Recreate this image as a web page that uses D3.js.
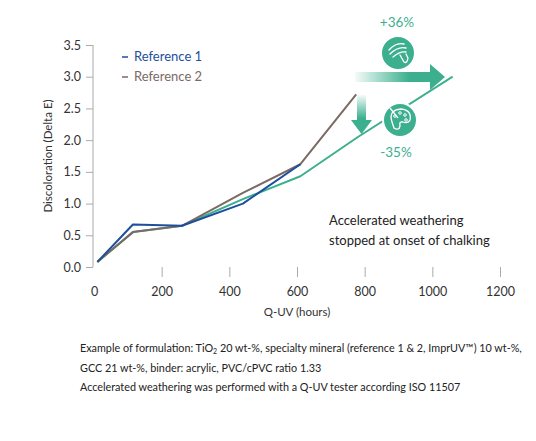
<!DOCTYPE html>
<html><head><meta charset="utf-8">
<script src="https://cdn.jsdelivr.net/npm/d3@7"></script>
<style>body{margin:0;background:#fff}text{font-family:Lato,"Open Sans",sans-serif}</style>
</head><body><svg id="c" width="536" height="441"></svg>
<script>
const hoursRef1 = [10,115,260,440,610];
const ref1 = [0.08,0.67,0.65,1.0,1.62];
const hoursRef2 = [10,115,260,440,610,775];
const ref2 = [0.08,0.55,0.65,1.17,1.62,2.72];
const hoursImpr = [10,115,260,440,610,780,1060];
const impr = [0.08,0.55,0.65,1.07,1.43,2.05,3.0];
const xTicks = [0,200,400,600,800,1000,1200];
const yTicks = [0,0.5,1,1.5,2,2.5,3,3.5];
const cBlue="#1d4f9c", cGray="#7b6a63", cGreen="#3cb08e";

const svg=d3.select("#c");
const x=d3.scaleLinear().domain([0,1200]).range([94,500]);
const y=d3.scaleLinear().domain([0,3.5]).range([267,45]);

const ya=svg.append("g").attr("transform","translate(93,0)")
 .call(d3.axisLeft(y).tickValues(yTicks).tickFormat(d3.format(".1f")).tickSize(7).tickPadding(5));
ya.selectAll("line,path").attr("stroke","#aaa");
ya.select("path").attr("d","M0,45V267");
ya.selectAll("text").attr("font-size",12.5).attr("fill","#333").attr("font-family","Lato,sans-serif");
const xa=svg.append("g").attr("transform","translate(0,267)")
 .call(d3.axisBottom(x).tickValues(xTicks).tickFormat(d3.format("d")).tickSize(10).tickPadding(10));
xa.select("path").remove();
xa.selectAll("line").attr("stroke","#aaa").filter(d=>d===0).remove();
xa.selectAll("text").attr("font-size",12.5).attr("fill","#333").attr("font-family","Lato,sans-serif");

svg.append("text").attr("transform","translate(52,156) rotate(-90)").attr("text-anchor","middle")
 .attr("font-size",11.5).attr("fill","#333").text("Discoloration (Delta E)");
svg.append("text").attr("x",297).attr("y",316).attr("text-anchor","middle")
 .attr("font-size",11.5).attr("fill","#333").text("Q-UV (hours)");

const line=d3.line().x(d=>x(d[0])).y(d=>y(d[1]));
function draw(h,v,c){svg.append("path").datum(h.map((d,i)=>[d,v[i]])).attr("d",line)
 .attr("fill","none").attr("stroke",c).attr("stroke-width",2).attr("stroke-linejoin","round");}
draw(hoursImpr,impr,cGreen);
draw(hoursRef2,ref2,cGray);
draw(hoursRef1,ref1,cBlue);

[["Reference 1",cBlue],["Reference 2",cGray]].forEach((l,i)=>{
 svg.append("line").attr("x1",122).attr("x2",128).attr("y1",57+i*20).attr("y2",57+i*20).attr("stroke",l[1]).attr("stroke-width",1.5);
 svg.append("text").attr("x",134).attr("y",61+i*20).attr("font-size",13).attr("fill",l[1]).text(l[0]);
});

svg.append("text").attr("x",329).attr("y",225).attr("font-size",13).attr("fill","#222").text("Accelerated weathering");
svg.append("text").attr("x",329).attr("y",245).attr("font-size",13).attr("fill","#222").text("stopped at onset of chalking");

const defs=svg.append("defs");
const gh=defs.append("linearGradient").attr("id","gh");
gh.append("stop").attr("offset","0").attr("stop-color",cGreen).attr("stop-opacity",0.05);
gh.append("stop").attr("offset","0.6").attr("stop-color",cGreen).attr("stop-opacity",1);
const gv=defs.append("linearGradient").attr("id","gv").attr("x1",0).attr("x2",0).attr("y1",0).attr("y2",1);
gv.append("stop").attr("offset","0").attr("stop-color",cGreen).attr("stop-opacity",0.05);
gv.append("stop").attr("offset","0.6").attr("stop-color",cGreen).attr("stop-opacity",1);
svg.append("path").attr("d","M355,72H430V64L445,77L430,90V82H355Z").attr("fill","url(#gh)");
svg.append("path").attr("d","M357,95H366V120H372L361.5,134L351,120H357Z").attr("fill","url(#gv)");

function circ(cx,cy){svg.append("circle").attr("cx",cx).attr("cy",cy).attr("r",17).attr("fill",cGreen).attr("stroke","#fff").attr("stroke-width",2);}
circ(398,53);
svg.append("path").attr("d","M389,50Q396,42 404,44M390,54Q398,46 406,48M393,57Q400,51 406,52M400,55L404,62Q407,64 408,58L406,54")
 .attr("fill","none").attr("stroke","#fff").attr("stroke-width",1.3).attr("stroke-linecap","round");
circ(400,120);
svg.append("path").attr("d","M392,122Q388,110 401,109Q412,110 410,120Q408,124 403,122Q399,121 400,126Q399,131 394,128Z")
 .attr("fill","none").attr("stroke","#fff").attr("stroke-width",1.3);
[[395,116],[400,113],[405,115],[406,120]].forEach(p=>svg.append("circle").attr("cx",p[0]).attr("cy",p[1]).attr("r",1.3).attr("fill","none").attr("stroke","#fff"));
svg.append("line").attr("x1",390).attr("y1",108).attr("x2",398).attr("y2",118).attr("stroke","#fff").attr("stroke-width",1.3);

svg.append("text").attr("x",397).attr("y",27).attr("text-anchor","middle").attr("font-size",13.5).attr("fill",cGreen).text("+36%");
svg.append("text").attr("x",396).attr("y",157).attr("text-anchor","middle").attr("font-size",13.5).attr("fill",cGreen).text("-35%");

const f=svg.append("g").attr("font-size",10.8).attr("fill","#222");
const t1=f.append("text").attr("x",80).attr("y",352);
t1.append("tspan").text("Example of formulation: TiO");
t1.append("tspan").attr("font-size",7).attr("dy",2).text("2");
t1.append("tspan").attr("dy",-2).text(" 20 wt-%, specialty mineral (reference 1 & 2, ImprUV\u2122) 10 wt-%,");
f.append("text").attr("x",80).attr("y",372).text("GCC 21 wt-%, binder: acrylic, PVC/cPVC ratio 1.33");
f.append("text").attr("x",80).attr("y",391).text("Accelerated weathering was performed with a Q-UV tester according ISO 11507");
</script></body></html>
